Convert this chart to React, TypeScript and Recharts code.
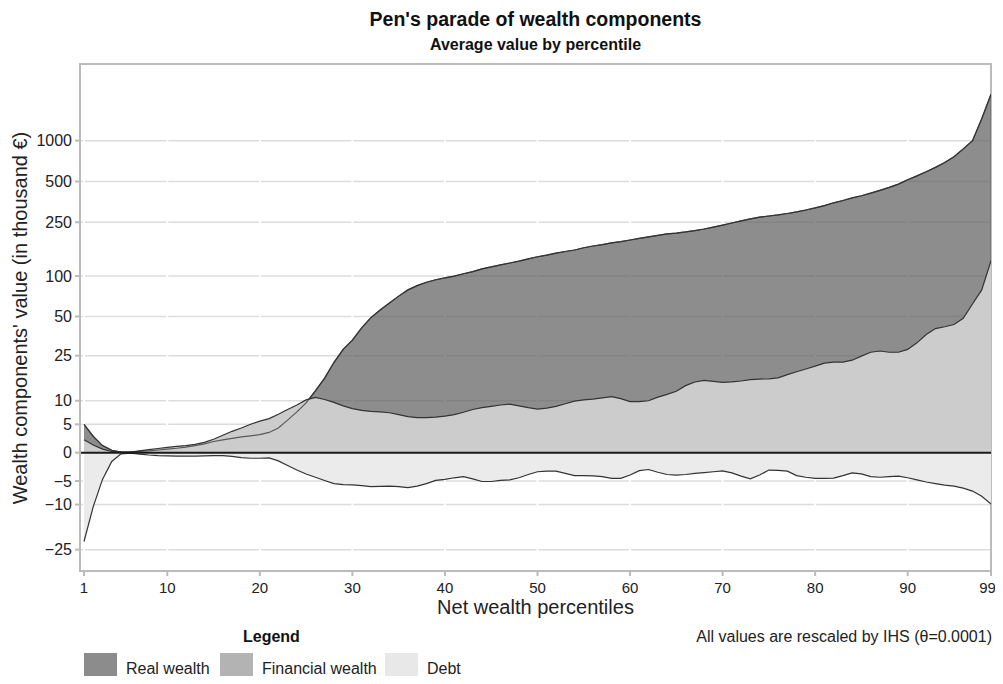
import React from 'react';
import {
  ComposedChart,
  Area,
  Line,
  XAxis,
  YAxis,
  CartesianGrid,
  ReferenceLine,
  ReferenceArea,
} from 'recharts';

// Net wealth percentiles 1..99
const percentiles: number[] = Array.from({ length: 99 }, (_, i) => i + 1);

// Average values by percentile, thousand €
const realWealth: number[] = [
  5.0, 2.8, 1.2, 0.4, 0.1, 0.1, 0.2, 0.3, 0.45, 0.6,
  0.75, 0.95, 1.2, 1.5, 1.9, 2.2, 2.45, 2.7, 2.9, 3.1,
  3.5, 4.3, 5.8, 7.5, 9.5, 12.5, 16.3, 22, 28, 33,
  41, 49, 56, 63, 71, 79, 85, 90, 94, 97,
  100, 104, 108, 113, 117, 121, 125, 129, 134, 139,
  143, 148, 152, 156, 162, 167, 171, 176, 180, 185,
  190, 195, 200, 205, 208, 212, 217, 223, 230, 238,
  247, 256, 265, 273, 278, 283, 290, 298, 308, 319,
  332, 348, 362, 378, 392, 410, 430, 452, 478, 515,
  550, 590, 635, 690, 760, 870, 1000, 1450, 2200,
];

const financialWealth: number[] = [
  2.2, 1.3, 0.6, 0.2, 0.05, 0.1, 0.3, 0.5, 0.7, 0.9,
  1.05, 1.2, 1.4, 1.75, 2.3, 3.0, 3.7, 4.3, 5.0, 5.6,
  6.1, 7.0, 8.0, 9.0, 10.2, 10.8, 10.3, 9.6, 8.8, 8.2,
  7.8, 7.6, 7.5, 7.3, 6.9, 6.5, 6.3, 6.3, 6.4, 6.6,
  6.9, 7.4, 8.0, 8.4, 8.7, 9.0, 9.2, 8.8, 8.4, 8.1,
  8.3, 8.7, 9.3, 9.9, 10.2, 10.4, 10.7, 11.0, 10.5, 9.8,
  9.8, 10.0, 10.9, 11.6, 12.4, 14.0, 15.1, 15.6, 15.3, 15.0,
  15.1, 15.4, 15.8, 16.0, 16.1, 16.4, 17.5, 18.5, 19.5, 20.6,
  21.8, 22.2, 22.2, 23.0, 24.8, 26.6, 27.2, 26.6, 26.6, 28.0,
  31.5, 36.5, 40.5, 41.8, 43.5, 48.5, 62, 79, 130,
];

const debt: number[] = [
  -21.5, -10.5, -4.7, -1.5, -0.2, -0.1, -0.25, -0.4, -0.5, -0.56,
  -0.6, -0.6, -0.6, -0.55, -0.5, -0.5, -0.65, -0.85, -0.95, -0.95,
  -0.9, -1.4, -2.2, -3.0, -3.7, -4.3, -4.9, -5.5, -5.7, -5.75,
  -5.9, -6.1, -6.05, -6.0, -6.1, -6.3, -6.0, -5.5, -4.9, -4.7,
  -4.4, -4.2, -4.6, -5.1, -5.1, -4.9, -4.8, -4.4, -3.8, -3.3,
  -3.2, -3.2, -3.6, -4.0, -4.0, -4.05, -4.2, -4.5, -4.5, -3.9,
  -3.1, -2.9, -3.4, -3.8, -3.9, -3.8, -3.6, -3.45, -3.3, -3.15,
  -3.5, -4.1, -4.6, -3.9, -3.0, -3.05, -3.2, -4.0, -4.3, -4.5,
  -4.5, -4.45, -4.0, -3.5, -3.7, -4.2, -4.3, -4.2, -4.1, -4.4,
  -4.8, -5.2, -5.5, -5.8, -6.0, -6.4, -7.0, -8.1, -9.9,
];

const yTickValues: number[] = [-25, -10, -5, 0, 5, 10, 25, 50, 100, 250, 500, 1000];
const xTickValues: number[] = [1, 10, 20, 30, 40, 50, 60, 70, 80, 90, 99];

// IHS with θ = 0.0001 applied to euros (values are in thousand €)
const THETA_THOUSANDS = 0.0001 * 1000;
const ihs = (v: number) => Math.asinh(v * THETA_THOUSANDS);
const ihsInv = (t: number) => Math.sinh(t) / THETA_THOUSANDS;

const data = percentiles.map((p, i) => ({
  p,
  real: ihs(realWealth[i]),
  fin: ihs(financialWealth[i]),
  debt: ihs(debt[i]),
}));

const yTicks = yTickValues.map(ihs);
const X_MIN = 0.568;
const Y_MIN = -2.01;
const Y_MAX = 6.6;

const FONT = '"Liberation Sans", Arial, Helvetica, sans-serif';

const fmtY = (t: number) => {
  const v = Math.round(ihsInv(t));
  return v < 0 ? '\u2212' + Math.abs(v) : String(v);
};

export default function App() {
  return (
    <div style={{ position: 'relative', width: 987, height: 668, fontFamily: FONT, color: '#111' }}>
      <style>{`.recharts-surface{overflow:visible}`}</style>
      <div
        style={{
          position: 'absolute', left: 0, width: 1055, top: 0, textAlign: 'center',
          fontWeight: 'bold', fontSize: 19.5, lineHeight: '22px',
        }}
      >
        Pen's parade of wealth components
      </div>
      <div
        style={{
          position: 'absolute', left: 0, width: 1055, top: 28, textAlign: 'center',
          fontWeight: 'bold', fontSize: 16, lineHeight: '18px',
        }}
      >
        Average value by percentile
      </div>
      <div style={{ position: 'absolute', left: 12, top: 310, width: 0, height: 0 }}>
        <div
          style={{
            position: 'absolute', left: 0, top: 0, transform: 'translate(-50%, -50%) rotate(-90deg)',
            whiteSpace: 'nowrap', fontSize: 20, lineHeight: '22px', color: '#222',
          }}
        >
          Wealth components' value (in thousand €)
        </div>
      </div>
      <ComposedChart
        width={987}
        height={668}
        data={data}
        margin={{ top: 56, right: 4, left: 0, bottom: 75 }}
        style={{ fontFamily: FONT, overflow: 'visible' }}
      >
        <CartesianGrid horizontal={true} vertical={false} stroke="#dcdcdc" strokeWidth={1.5} />
        <CartesianGrid horizontal={false} vertical={true} stroke="#ffffff" strokeWidth={2} />
        <XAxis
          dataKey="p"
          type="number"
          domain={[X_MIN, 99]}
          ticks={xTickValues}
          allowDataOverflow
          height={30}
          tickSize={5}
          tickMargin={6}
          axisLine={{ stroke: '#bbbbbb', strokeWidth: 2 }}
          tickLine={{ stroke: '#bbbbbb', strokeWidth: 2 }}
          tick={{ fontSize: 15, fill: '#222', fontFamily: FONT }}
        />
        <YAxis
          type="number"
          domain={[Y_MIN, Y_MAX]}
          ticks={yTicks}
          allowDataOverflow
          width={72}
          tickSize={5}
          tickMargin={3}
          tickFormatter={fmtY}
          axisLine={{ stroke: '#bbbbbb', strokeWidth: 2 }}
          tickLine={{ stroke: '#bbbbbb', strokeWidth: 2 }}
          tick={{ fontSize: 16, fill: '#222', fontFamily: FONT }}
        />
        <ReferenceArea
          x1={X_MIN}
          x2={99}
          y1={Y_MIN}
          y2={Y_MAX}
          fill="none"
          fillOpacity={0}
          stroke="#bbbbbb"
          strokeWidth={2}
        />
        <Area
          type="linear"
          dataKey="real"
          baseValue={0}
          fill="#5c5c5c"
          fillOpacity={0.7}
          stroke="#333333"
          strokeWidth={1.2}
          isAnimationActive={false}
          dot={false}
          activeDot={false}
        />
        <Area
          type="linear"
          dataKey="fin"
          baseValue={0}
          fill="#cccccc"
          fillOpacity={1}
          stroke="#333333"
          strokeWidth={1.2}
          isAnimationActive={false}
          dot={false}
          activeDot={false}
        />
        <Area
          type="linear"
          dataKey="debt"
          baseValue={0}
          fill="#ebebeb"
          fillOpacity={1}
          stroke="#333333"
          strokeWidth={1.2}
          isAnimationActive={false}
          dot={false}
          activeDot={false}
        />
        <Line
          type="linear"
          dataKey="real"
          stroke="#333333"
          strokeOpacity={0.75}
          strokeWidth={1.2}
          dot={false}
          activeDot={false}
          isAnimationActive={false}
        />
        <ReferenceLine y={0} stroke="#1a1a1a" strokeWidth={2} />
      </ComposedChart>
      <div
        style={{
          position: 'absolute', left: 0, width: 1055, top: 587, textAlign: 'center',
          fontSize: 20, lineHeight: '24px', color: '#222',
        }}
      >
        Net wealth percentiles
      </div>
      <div
        style={{
          position: 'absolute', left: 235, top: 619, fontWeight: 'bold', fontSize: 16, lineHeight: '20px',
        }}
      >
        Legend
      </div>
      <div
        style={{
          position: 'absolute', right: 3, top: 619, fontSize: 16, lineHeight: '20px', color: '#222',
          whiteSpace: 'nowrap',
        }}
      >
        All values are rescaled by IHS (θ=0.0001)
      </div>
      {[
        { label: 'Real wealth', color: '#8c8c8c', x: 76 },
        { label: 'Financial wealth', color: '#b3b3b3', x: 212 },
        { label: 'Debt', color: '#e8e8e8', x: 377 },
      ].map((item) => (
        <div
          key={item.label}
          style={{ position: 'absolute', left: item.x, top: 645, height: 32, display: 'flex', alignItems: 'center' }}
        >
          <div style={{ width: 33, height: 32, background: item.color, flex: 'none' }} />
          <div style={{ marginLeft: 9, fontSize: 16, lineHeight: '20px', color: '#222', whiteSpace: 'nowrap' }}>
            {item.label}
          </div>
        </div>
      ))}
    </div>
  );
}
